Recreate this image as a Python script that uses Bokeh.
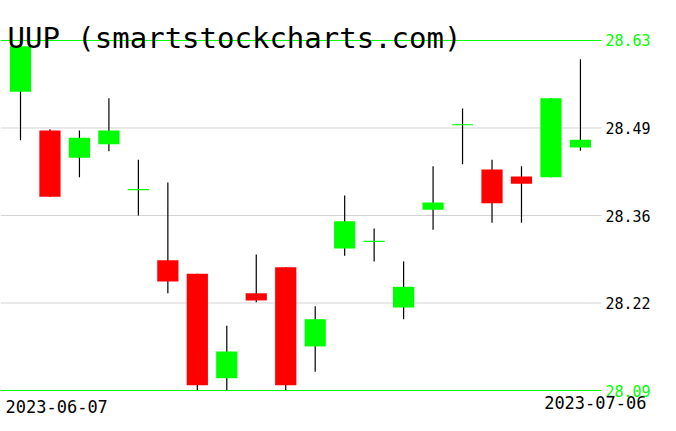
from bokeh.plotting import figure
from bokeh.models import ColumnDataSource, Label, Range1d
from bokeh.core.properties import value
from bokeh.embed import file_html
from bokeh.resources import INLINE

# ---- data ----
dates = ["2023-06-07", "2023-06-08", "2023-06-09", "2023-06-12", "2023-06-13",
         "2023-06-14", "2023-06-15", "2023-06-16", "2023-06-20", "2023-06-21",
         "2023-06-22", "2023-06-23", "2023-06-26", "2023-06-27", "2023-06-28",
         "2023-06-29", "2023-06-30", "2023-07-03", "2023-07-05", "2023-07-06"]
opens  = [28.551, 28.491, 28.449, 28.470, 28.400, 28.291, 28.270, 28.109, 28.240, 28.280,
          28.158, 28.309, 28.320, 28.218, 28.369, 28.500, 28.431, 28.420, 28.419, 28.465]
highs  = [28.630, 28.493, 28.491, 28.541, 28.446, 28.411, 28.270, 28.190, 28.300, 28.280,
          28.220, 28.391, 28.340, 28.289, 28.436, 28.525, 28.446, 28.436, 28.541, 28.601]
lows   = [28.476, 28.389, 28.419, 28.459, 28.360, 28.240, 28.090, 28.090, 28.226, 28.090,
          28.119, 28.298, 28.289, 28.200, 28.338, 28.439, 28.349, 28.349, 28.419, 28.460]
closes = [28.621, 28.389, 28.480, 28.491, 28.400, 28.258, 28.098, 28.150, 28.229, 28.098,
          28.200, 28.351, 28.320, 28.250, 28.380, 28.500, 28.379, 28.409, 28.541, 28.477]

price_levels = [28.63, 28.495, 28.36, 28.225, 28.09]
price_labels = ["28.63", "28.49", "28.36", "28.22", "28.09"]
title_text = "UUP (smartstockcharts.com)"

GREEN = "#00ff00"
RED = "#ff0000"
FONT = "DejaVu Sans Mono"

n = len(dates)
xs = list(range(n))
colors = [GREEN if c >= o else RED for o, c in zip(opens, closes)]
tops = [max(o, c) for o, c in zip(opens, closes)]
bots = [min(o, c) for o, c in zip(opens, closes)]

src = ColumnDataSource(dict(x=xs, o=opens, h=highs, l=lows, c=closes,
                            top=tops, bot=bots, color=colors,
                            left=[x - 0.36 for x in xs], right=[x + 0.36 for x in xs]))
doji_idx = [i for i in range(n) if abs(opens[i] - closes[i]) < 1e-9]
doji = ColumnDataSource(dict(x0=[i - 0.36 for i in doji_idx], x1=[i + 0.36 for i in doji_idx],
                             y=[opens[i] for i in doji_idx]))

W, H = 660, 423
X0, X1 = -0.6787, 21.717
p = figure(width=W, height=H, output_backend="svg", toolbar_location=None,
           x_axis_type=None, y_axis_type=None, min_border=0,
           x_range=Range1d(X0, X1), y_range=Range1d(28.0391, 28.6917))
p.outline_line_color = None
p.background_fill_color = "white"
p.border_fill_color = "white"
p.xgrid.visible = False
p.ygrid.visible = False

line_end = 19.715
gray_src = ColumnDataSource(dict(x0=[X0] * 3, x1=[line_end] * 3, y=price_levels[1:4]))
green_src = ColumnDataSource(dict(x0=[X0] * 2, x1=[line_end] * 2,
                                  y=[price_levels[0], price_levels[4]]))
lab_colors = [GREEN, "black", "black", "black", GREEN]
lab_src = ColumnDataSource(dict(y=price_levels, lab=price_labels, lc=lab_colors,
                                lx=[19.85] * 5))

p.segment(x0="x0", y0="y", x1="x1", y1="y", line_color="#d3d3d3", line_width=1, source=gray_src)
p.segment(x0="x", y0="l", x1="x", y1="h", line_color="black", line_width=1.2, source=src)
p.quad(left="left", right="right", top="top", bottom="bot", fill_color="color",
       line_color=None, source=src)
p.segment(x0="x0", y0="y", x1="x1", y1="y", line_color=GREEN, line_width=1.2, source=doji)
p.segment(x0="x0", y0="y", x1="x1", y1="y", line_color=GREEN, line_width=1.2, source=green_src)

p.text(x="lx", y="y", text="lab", text_color="lc", text_font=value(FONT),
       text_font_size="15px", text_baseline="alphabetic", text_align="left", source=lab_src)

p.add_layout(Label(x=7, y=H - 37.5, x_units="screen", y_units="screen", text=title_text,
                   text_font=FONT, text_font_size="29px", text_color="black",
                   text_baseline="alphabetic"))
p.add_layout(Label(x=5, y=H - 406, x_units="screen", y_units="screen", text=dates[0],
                   text_font=FONT, text_font_size="17px", text_color="black",
                   text_baseline="alphabetic"))
p.add_layout(Label(x=646, y=H - 402, x_units="screen", y_units="screen", text=dates[-1],
                   text_font=FONT, text_font_size="17px", text_color="black",
                   text_baseline="alphabetic", text_align="right"))

open("out.html", "w").write(file_html(p, INLINE))
